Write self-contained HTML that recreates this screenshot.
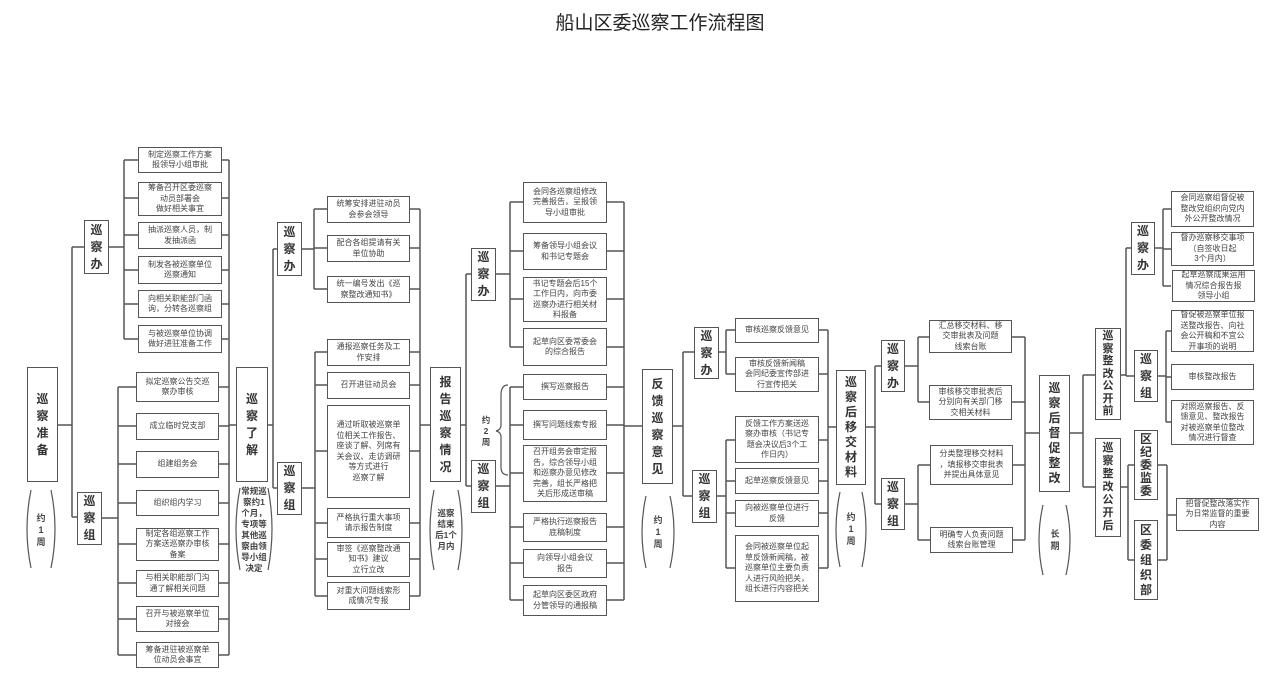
<!DOCTYPE html>
<html><head><meta charset="utf-8">
<style>
body{margin:0;background:#fff;}
#c{position:relative;width:1280px;height:679px;overflow:hidden;background:#fff;font-family:"Liberation Sans","Noto Sans CJK SC",sans-serif;}
.b{position:absolute;border:1.5px solid #555;box-sizing:border-box;display:flex;align-items:center;justify-content:center;text-align:center;font-size:8px;line-height:10.5px;color:#444;background:#fff;}
.v{position:absolute;border:1.5px solid #555;box-sizing:border-box;display:flex;align-items:center;justify-content:center;text-align:center;font-size:12px;line-height:17px;font-weight:bold;color:#333;background:#fff;}
.t{position:absolute;text-align:center;font-size:9px;line-height:12px;font-weight:bold;color:#444;display:flex;align-items:center;justify-content:center;}
svg{position:absolute;left:0;top:0;}
</style></head><body><div id="c">
<div style="position:absolute;left:0;width:1320px;top:8px;text-align:center;font-size:19px;color:#222;">船山区委巡察工作流程图</div>
<svg width="1280" height="679"><g fill="none" stroke="#555" stroke-width="1.5">
<path d="M57 425H72M72 247V517M72 247H84M72 517H77"/>
<path d="M109 247H124M124 160V339M124 160H138M124 198H138M124 235H138M124 270H138M124 304H138M124 339H138"/>
<path d="M222 160H229M222 198H229M222 235H229M222 270H229M222 304H229M222 339H229M229 160V655"/>
<path d="M102 518H118M118 387V655M118 387H136M118 426H136M118 464H136M118 503H136M118 544H136M118 583H136M118 619H136M118 655H136"/>
<path d="M219 387H229M219 426H229M219 464H229M219 503H229M219 544H229M219 583H229M219 619H229M219 655H229M229 425H236"/>
<path d="M268 425H273M273 249V488M273 249H277M273 488H277"/>
<path d="M302 249H314M314 209V289M314 209H327M314 248H327M314 289H327M410 209H420M410 248H420M410 289H420"/>
<path d="M302 488H315M315 352V596M315 352H327M315 385H327M315 451H327M315 523H327M315 559H327M315 596H327"/>
<path d="M410 352H420M410 385H420M410 451H420M410 523H420M410 559H420M410 596H420M420 209V596M420 425H430"/>
<path d="M461 425H466M466 274V486M466 274H471M466 486H471"/>
<path d="M495 274H510M510 202V347M510 202H523M510 251H523M510 299H523M510 347H523M607 202H624M607 251H624M607 299H624M607 347H624"/>
<path d="M495 486H510M510 387V600M510 387H523M510 425H523M510 473H523M510 527H523M510 563H523M510 600H523"/>
<path d="M607 387H624M607 425H624M607 473H624M607 527H624M607 563H624M607 600H624M624 202V600M624 426H642"/>
<path d="M673 426H683M683 352V496M683 352H694M683 496H692"/>
<path d="M718 352H726M726 330V374M726 330H735M726 374H735M819 330H828M819 374H828"/>
<path d="M717 496H726M726 440V568M726 440H735M726 481H735M726 513H735M726 568H735M819 440H828M819 481H828M819 513H828M819 568H828M828 330V568M828 427H836"/>
<path d="M866 427H875M875 366V504M875 366H881M875 504H881"/>
<path d="M905 366H918M918 337V402M918 337H929M918 402H929M1012 337H1025M1012 402H1025"/>
<path d="M905 504H918M918 465V540M918 465H930M918 540H930M1013 465H1025M1013 540H1025M1025 337V540M1025 433H1039"/>
<path d="M1070 433H1083M1083 375V487M1083 375H1095M1083 487H1095"/>
<path d="M1121 375H1126M1126 248V376M1126 248H1131M1126 376H1134"/>
<path d="M1155 248H1163M1163 209V286M1163 209H1171M1163 249H1171M1163 286H1171"/>
<path d="M1158 376H1166M1166 331V422M1166 331H1171M1166 377H1171M1166 422H1171"/>
<path d="M1121 487H1128M1128 465V560M1128 465H1134M1128 560H1134M1158 465H1167M1158 560H1167M1167 465V560M1167 515H1176"/>
</g>
<g fill="none" stroke="#555" stroke-width="1.2">
<path d="M31 490Q23 529 31 568M51 490Q59 529 51 568"/>
<path d="M240 488Q232 529 240 570M268 488Q276 529 268 570"/>
<path d="M434 490Q426 530 434 570M458 490Q466 530 458 570"/>
<path d="M646 496Q638 532 646 568M670 496Q678 532 670 568"/>
<path d="M840 492Q832 530 840 567M862 492Q870 530 862 567"/>
<path d="M1043 505Q1035 540 1043 575M1066 505Q1074 540 1066 575"/>
<path d="M508 385Q501 385 501 395V425Q501 430 496 431Q501 432 501 437V467Q501 475 508 475"/>
</g></svg>

<div class="v" style="left:27px;top:367px;width:31px;height:115px;">巡<br>察<br>准<br>备</div>
<div class="t" style="left:27px;top:495px;width:28px;height:70px;">约<br>1<br>周</div>
<div class="v" style="left:84px;top:220px;width:25px;height:54px;">巡<br>察<br>办</div>
<div class="v" style="left:77px;top:492px;width:25px;height:53px;">巡<br>察<br>组</div>

<div class="b" style="left:138px;top:147px;width:84px;height:26px;">制定巡察工作方案<br>报领导小组审批</div>
<div class="b" style="left:138px;top:182px;width:84px;height:34px;">筹备召开区委巡察<br>动员部署会<br>做好相关事宜</div>
<div class="b" style="left:138px;top:222px;width:84px;height:27px;">抽派巡察人员，制<br>发抽派函</div>
<div class="b" style="left:138px;top:256px;width:84px;height:28px;">制发各被巡察单位<br>巡察通知</div>
<div class="b" style="left:138px;top:290px;width:84px;height:28px;">向相关职能部门函<br>询，分转各巡察组</div>
<div class="b" style="left:138px;top:325px;width:84px;height:28px;">与被巡察单位协调<br>做好进驻准备工作</div>

<div class="b" style="left:136px;top:372px;width:83px;height:30px;">拟定巡察公告交巡<br>察办审核</div>
<div class="b" style="left:136px;top:413px;width:83px;height:27px;">成立临时党支部</div>
<div class="b" style="left:136px;top:451px;width:83px;height:27px;">组建组务会</div>
<div class="b" style="left:136px;top:490px;width:83px;height:26px;">组织组内学习</div>
<div class="b" style="left:136px;top:528px;width:83px;height:33px;">制定各组巡察工作<br>方案送巡察办审核<br>备案</div>
<div class="b" style="left:136px;top:570px;width:83px;height:27px;">与相关职能部门沟<br>通了解相关问题</div>
<div class="b" style="left:136px;top:606px;width:83px;height:26px;">召开与被巡察单位<br>对接会</div>
<div class="b" style="left:136px;top:642px;width:83px;height:26px;">筹备进驻被巡察单<br>位动员会事宜</div>

<div class="v" style="left:236px;top:367px;width:32px;height:115px;">巡<br>察<br>了<br>解</div>
<div class="t" style="left:238px;top:488px;width:32px;height:84px;font-size:8.5px;line-height:11px;">常规巡<br>察约1<br>个月，<br>专项等<br>其他巡<br>察由领<br>导小组<br>决定</div>
<div class="v" style="left:277px;top:222px;width:25px;height:54px;">巡<br>察<br>办</div>
<div class="v" style="left:277px;top:462px;width:25px;height:53px;">巡<br>察<br>组</div>

<div class="b" style="left:327px;top:196px;width:83px;height:27px;">统筹安排进驻动员<br>会参会领导</div>
<div class="b" style="left:327px;top:235px;width:83px;height:27px;">配合各组提请有关<br>单位协助</div>
<div class="b" style="left:327px;top:276px;width:83px;height:27px;">统一编号发出《巡<br>察整改通知书》</div>
<div class="b" style="left:327px;top:339px;width:83px;height:27px;">通报巡察任务及工<br>作安排</div>
<div class="b" style="left:327px;top:372px;width:83px;height:27px;">召开进驻动员会</div>
<div class="b" style="left:327px;top:405px;width:83px;height:93px;">通过听取被巡察单<br>位相关工作报告、<br>座谈了解、列席有<br>关会议、走访调研<br>等方式进行<br>巡察了解</div>
<div class="b" style="left:327px;top:508px;width:83px;height:30px;">严格执行重大事项<br>请示报告制度</div>
<div class="b" style="left:327px;top:542px;width:83px;height:35px;">审签《巡察整改通<br>知书》建议<br>立行立改</div>
<div class="b" style="left:327px;top:582px;width:83px;height:28px;">对重大问题线索形<br>成情况专报</div>

<div class="v" style="left:430px;top:367px;width:31px;height:115px;">报<br>告<br>巡<br>察<br>情<br>况</div>
<div class="t" style="left:432px;top:495px;width:28px;height:70px;font-size:8.5px;line-height:11px;">巡察<br>结束<br>后1个<br>月内</div>
<div class="v" style="left:471px;top:248px;width:25px;height:53px;">巡<br>察<br>办</div>
<div class="v" style="left:471px;top:460px;width:25px;height:53px;">巡<br>察<br>组</div>
<div class="t" style="left:476px;top:412px;width:20px;height:38px;font-size:8.5px;line-height:11px;">约<br>2<br>周</div>

<div class="b" style="left:523px;top:182px;width:84px;height:41px;">会同各巡察组修改<br>完善报告，呈报领<br>导小组审批</div>
<div class="b" style="left:523px;top:233px;width:84px;height:37px;">筹备领导小组会议<br>和书记专题会</div>
<div class="b" style="left:523px;top:277px;width:84px;height:45px;">书记专题会后15个<br>工作日内，向市委<br>巡察办进行相关材<br>料报备</div>
<div class="b" style="left:523px;top:328px;width:84px;height:38px;">起草向区委常委会<br>的综合报告</div>
<div class="b" style="left:523px;top:374px;width:84px;height:26px;">撰写巡察报告</div>
<div class="b" style="left:523px;top:410px;width:84px;height:30px;">撰写问题线索专报</div>
<div class="b" style="left:523px;top:445px;width:84px;height:57px;">召开组务会审定报<br>告，综合领导小组<br>和巡察办意见修改<br>完善，组长严格把<br>关后形成送审稿</div>
<div class="b" style="left:523px;top:513px;width:84px;height:29px;">严格执行巡察报告<br>底稿制度</div>
<div class="b" style="left:523px;top:549px;width:84px;height:29px;">向领导小组会议<br>报告</div>
<div class="b" style="left:523px;top:585px;width:84px;height:31px;">起草向区委区政府<br>分管领导的通报稿</div>

<div class="v" style="left:642px;top:369px;width:31px;height:115px;">反<br>馈<br>巡<br>察<br>意<br>见</div>
<div class="t" style="left:644px;top:497px;width:28px;height:70px;">约<br>1<br>周</div>
<div class="v" style="left:694px;top:327px;width:25px;height:52px;">巡<br>察<br>办</div>
<div class="v" style="left:692px;top:470px;width:25px;height:53px;">巡<br>察<br>组</div>

<div class="b" style="left:735px;top:318px;width:84px;height:25px;">审核巡察反馈意见</div>
<div class="b" style="left:735px;top:357px;width:84px;height:35px;">审核反馈新闻稿<br>会同纪委宣传部进<br>行宣传把关</div>
<div class="b" style="left:735px;top:416px;width:84px;height:47px;">反馈工作方案送巡<br>察办审核（书记专<br>题会决议后3个工<br>作日内）</div>
<div class="b" style="left:735px;top:468px;width:84px;height:26px;">起草巡察反馈意见</div>
<div class="b" style="left:735px;top:500px;width:84px;height:27px;">向被巡察单位进行<br>反馈</div>
<div class="b" style="left:735px;top:535px;width:84px;height:67px;">会同被巡察单位起<br>草反馈新闻稿，被<br>巡察单位主要负责<br>人进行风险把关，<br>组长进行内容把关</div>

<div class="v" style="left:836px;top:370px;width:30px;height:115px;line-height:15px;">巡<br>察<br>后<br>移<br>交<br>材<br>料</div>
<div class="t" style="left:837px;top:494px;width:28px;height:70px;">约<br>1<br>周</div>
<div class="v" style="left:881px;top:340px;width:24px;height:52px;">巡<br>察<br>办</div>
<div class="v" style="left:881px;top:478px;width:24px;height:52px;">巡<br>察<br>组</div>

<div class="b" style="left:929px;top:320px;width:83px;height:33px;">汇总移交材料、移<br>交审批表及问题<br>线索台账</div>
<div class="b" style="left:929px;top:385px;width:83px;height:35px;">审核移交审批表后<br>分别向有关部门移<br>交相关材料</div>
<div class="b" style="left:930px;top:445px;width:83px;height:40px;">分类整理移交材料<br>，填报移交审批表<br>并提出具体意见</div>
<div class="b" style="left:930px;top:527px;width:83px;height:26px;">明确专人负责问题<br>线索台账管理</div>

<div class="v" style="left:1039px;top:375px;width:31px;height:117px;line-height:15px;">巡<br>察<br>后<br>督<br>促<br>整<br>改</div>
<div class="t" style="left:1041px;top:520px;width:28px;height:40px;">长<br>期</div>
<div class="v" style="left:1095px;top:328px;width:26px;height:92px;font-size:11px;line-height:12.5px;">巡<br>察<br>整<br>改<br>公<br>开<br>前</div>
<div class="v" style="left:1095px;top:438px;width:26px;height:99px;font-size:11px;line-height:13px;">巡<br>察<br>整<br>改<br>公<br>开<br>后</div>
<div class="v" style="left:1131px;top:222px;width:24px;height:53px;">巡<br>察<br>办</div>
<div class="v" style="left:1134px;top:350px;width:24px;height:52px;">巡<br>察<br>组</div>
<div class="v" style="left:1134px;top:430px;width:24px;height:70px;line-height:13px;">区<br>纪<br>委<br>监<br>委</div>
<div class="v" style="left:1134px;top:520px;width:24px;height:80px;line-height:15px;">区<br>委<br>组<br>织<br>部</div>

<div class="b" style="left:1171px;top:191px;width:83px;height:36px;">会同巡察组督促被<br>整改党组织向党内<br>外公开整改情况</div>
<div class="b" style="left:1171px;top:232px;width:83px;height:34px;">督办巡察移交事项<br>（自签收日起<br>3个月内）</div>
<div class="b" style="left:1172px;top:270px;width:83px;height:32px;">起草巡察成果运用<br>情况综合报告报<br>领导小组</div>
<div class="b" style="left:1171px;top:310px;width:83px;height:42px;">督促被巡察单位报<br>送整改报告、向社<br>会公开稿和不宜公<br>开事项的说明</div>
<div class="b" style="left:1171px;top:364px;width:83px;height:26px;">审核整改报告</div>
<div class="b" style="left:1171px;top:400px;width:83px;height:45px;">对照巡察报告、反<br>馈意见、整改报告<br>对被巡察单位整改<br>情况进行督查</div>
<div class="b" style="left:1176px;top:498px;width:83px;height:33px;">把督促整改落实作<br>为日常监督的重要<br>内容</div>
</div></body></html>
